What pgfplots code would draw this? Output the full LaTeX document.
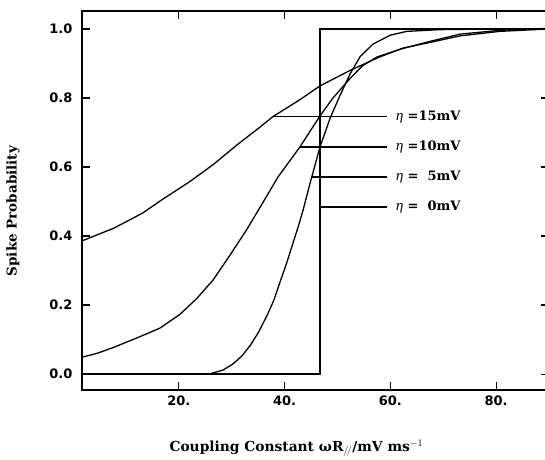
\documentclass[border=0pt]{standalone}
\usepackage{pgfplots}
\pgfplotsset{compat=1.18}
\usepackage{fontspec}
\setmainfont{DejaVu Serif}
\newfontfamily\ticksans{DejaVu Sans}
\begin{document}
\begin{tikzpicture}[x=1pt,y=1pt]
\begin{axis}[
  at={(82pt,69pt)}, anchor=south west,
  scale only axis, width=467pt, height=379pt,
  xmin=1.7, xmax=90, ymin=-0.046, ymax=1.052,
  axis line style={line width=1.4pt},
  xtick={20,40,60,80}, xticklabels={20.,40.,60.,80.},
  ytick={0,0.2,0.4,0.6,0.8,1.0},
  y tick label style={/pgf/number format/.cd, fixed, fixed zerofill, precision=1, /tikz/.cd, xshift=-6pt},
  x tick label style={yshift=-2pt},
  tick style={line width=1.2pt, black},
  major tick length=8pt,
  tick align=inside,
  ticklabel style={font=\ticksans\bfseries\fontsize{13}{15}\selectfont},
  /pgf/number format/assume math mode=true,
  xlabel={Coupling Constant ωR$_{/\!/}$/mV ms$^{-1}$},
  ylabel={Spike Probability},
  xlabel style={at={(axis description cs:0.459,-0.153)}, anchor=center, font=\bfseries\fontsize{13.8}{16}\selectfont},
  ylabel style={at={(axis description cs:-0.148,0.472)}, anchor=center, font=\bfseries\fontsize{13.5}{16}\selectfont},
]
% eta = 0 mV (step)
\addplot[black, line width=1.3pt] coordinates {(1.7,0) (46.7,0) (46.7,1.0) (90,1.0)};
% eta = 5 mV
\addplot[black, line width=1.3pt] coordinates {
(1.7,0) (20,0) (25.9,0.001) (28.4,0.012) (30.2,0.029) (31.9,0.052) (33.5,0.083) (35.1,0.122) (36.7,0.170) (38.0,0.215) (39.1,0.265) (40.4,0.322) (41.6,0.380) (42.6,0.428) (43.5,0.475) (44.8,0.552) (46.7,0.658) (48.6,0.741) (50.5,0.808) (52.4,0.870) (54.3,0.920) (56.7,0.956) (60.0,0.982) (63.1,0.993) (69.4,0.998) (80.7,1.0) (90,1.0)};
% eta = 10 mV
\addplot[black, line width=1.3pt] coordinates {
(1.7,0.049) (4.5,0.060) (7.6,0.077) (12.1,0.105) (16.4,0.133) (20.2,0.173) (23.4,0.219) (26.5,0.273) (29.7,0.345) (32.9,0.420) (35.9,0.497) (38.8,0.572) (42.9,0.658) (46.7,0.748) (49.1,0.799) (52.4,0.857) (54.8,0.894) (57.5,0.919) (61.8,0.941) (67.5,0.964) (73.2,0.985) (80.7,0.996) (90,1.002)};
% eta = 15 mV
\addplot[black, line width=1.3pt] coordinates {
(1.7,0.386) (4.5,0.403) (7.6,0.422) (10.5,0.445) (13.2,0.467) (17.0,0.507) (22.1,0.558) (26.5,0.607) (31.0,0.664) (35.3,0.715) (37.8,0.746) (42.9,0.795) (46.7,0.835) (52.4,0.880) (58.0,0.919) (62.5,0.945) (67.5,0.961) (73.2,0.980) (80.7,0.993) (90,1.0)};
% label pointer lines
\addplot[black, line width=1.3pt] coordinates {(37.8,0.746) (59.4,0.746)};
\addplot[black, line width=1.3pt] coordinates {(42.9,0.658) (59.4,0.658)};
\addplot[black, line width=1.3pt] coordinates {(45.1,0.571) (59.4,0.571)};
\addplot[black, line width=1.3pt] coordinates {(46.7,0.484) (59.4,0.484)};
\node[anchor=west, inner sep=0pt, font=\bfseries\fontsize{13}{15}\selectfont] at (axis cs:60.9,0.746) {{\mdseries\itshape η} =15mV};
\node[anchor=west, inner sep=0pt, font=\bfseries\fontsize{13}{15}\selectfont] at (axis cs:60.9,0.658) {{\mdseries\itshape η} =10mV};
\node[anchor=west, inner sep=0pt, font=\bfseries\fontsize{13}{15}\selectfont] at (axis cs:60.9,0.571) {{\mdseries\itshape η} =\ \ 5mV};
\node[anchor=west, inner sep=0pt, font=\bfseries\fontsize{13}{15}\selectfont] at (axis cs:60.9,0.484) {{\mdseries\itshape η} =\ \ 0mV};
\end{axis}
\pgfresetboundingbox
\useasboundingbox (0,0) rectangle (545,459);
\end{tikzpicture}
\end{document}
